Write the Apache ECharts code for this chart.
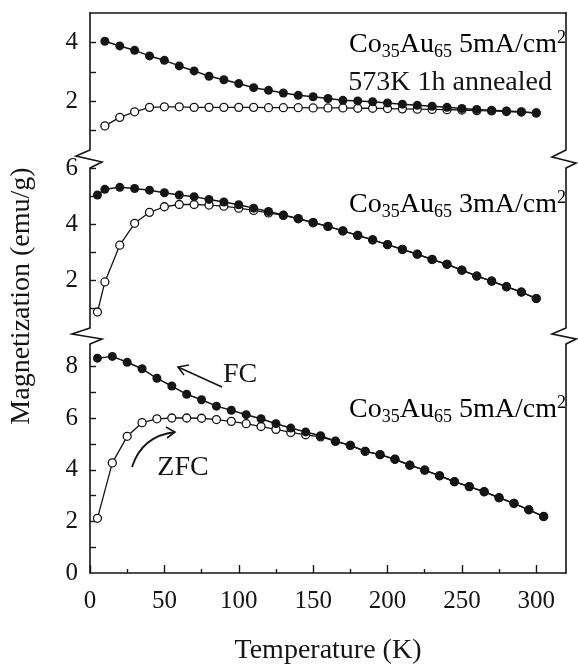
<!DOCTYPE html>
<html>
<head>
<meta charset="utf-8">
<script src="https://cdn.jsdelivr.net/npm/echarts@6/dist/echarts.min.js"></script>
<style>
    html, body { margin: 0; padding: 0; background: #fff; }
    #main { width: 578px; height: 666px; }
</style>
</head>
<body>
<div id="main"></div>
<script>
// top panel: Co35Au65 5mA/cm2, 573K 1h annealed
var tempTop = [10, 20, 30, 40, 50, 60, 70, 80, 90, 100, 110, 120, 130, 140, 150, 160, 170, 180, 190, 200, 210, 220, 230, 240, 250, 260, 270, 280, 290, 300];
var fcTop = [4.04, 3.88, 3.73, 3.54, 3.39, 3.20, 3.03, 2.85, 2.73, 2.60, 2.46, 2.37, 2.28, 2.20, 2.15, 2.09, 2.03, 2.01, 1.98, 1.94, 1.90, 1.86, 1.83, 1.79, 1.75, 1.72, 1.69, 1.67, 1.64, 1.60];
var zfcTop = [1.16, 1.45, 1.64, 1.79, 1.81, 1.81, 1.79, 1.79, 1.79, 1.79, 1.79, 1.78, 1.78, 1.78, 1.77, 1.77, 1.77, 1.76, 1.76, 1.75, 1.74, 1.73, 1.72, 1.71, 1.70, 1.68, 1.67, 1.65, 1.63, 1.60];

// middle panel: Co35Au65 3mA/cm2
var tempMid = [5, 10, 20, 30, 40, 50, 60, 70, 80, 90, 100, 110, 120, 130, 140, 150, 160, 170, 180, 190, 200, 210, 220, 230, 240, 250, 260, 270, 280, 290, 300];
var fcMid = [5.04, 5.24, 5.31, 5.27, 5.21, 5.12, 5.04, 4.98, 4.88, 4.79, 4.69, 4.57, 4.45, 4.33, 4.20, 4.06, 3.92, 3.76, 3.60, 3.44, 3.27, 3.10, 2.93, 2.74, 2.57, 2.36, 2.15, 1.97, 1.77, 1.58, 1.35];
var zfcMid = [0.87, 1.94, 3.25, 4.03, 4.42, 4.62, 4.70, 4.70, 4.68, 4.64, 4.57, 4.49, 4.40, 4.31, 4.19, 4.05, 3.92, 3.76, 3.60, 3.44, 3.27, 3.10, 2.93, 2.74, 2.57, 2.36, 2.15, 1.97, 1.77, 1.58, 1.35];

// bottom panel: Co35Au65 5mA/cm2
var tempBot = [5, 15, 25, 35, 45, 55, 65, 75, 85, 95, 105, 115, 125, 135, 145, 155, 165, 175, 185, 195, 205, 215, 225, 235, 245, 255, 265, 275, 285, 295, 305];
var fcBot = [8.33, 8.40, 8.17, 7.92, 7.55, 7.25, 6.93, 6.72, 6.47, 6.31, 6.14, 5.98, 5.79, 5.62, 5.47, 5.32, 5.11, 4.95, 4.72, 4.59, 4.41, 4.18, 3.99, 3.77, 3.54, 3.35, 3.15, 2.92, 2.70, 2.45, 2.19];
var zfcBot = [2.12, 4.27, 5.30, 5.83, 5.98, 6.01, 6.01, 6.00, 5.95, 5.88, 5.79, 5.68, 5.57, 5.45, 5.36, 5.28, 5.11, 4.95, 4.72, 4.59, 4.41, 4.18, 3.99, 3.77, 3.54, 3.35, 3.15, 2.92, 2.70, 2.45, 2.19];

var xTicks = [0, 50, 100, 150, 200, 250, 300];
var xMinorTicks = [25, 75, 125, 175, 225, 275];

var font = 'Liberation Serif';
var ink = '#151515';

function pairs(t, v) {
    var out = [];
    for (var i = 0; i < t.length; i++) {
        out.push([t[i], v[i]]);
    }
    return out;
}

function leftAxis(idx, min, max, labels, ticks) {
    return {
        type: 'value', gridIndex: idx, position: 'left', min: min, max: max,
        axisLine: { show: true, onZero: false, lineStyle: { color: ink, width: 1.6 } },
        axisTick: { show: true, inside: true, length: 6, customValues: ticks, lineStyle: { color: ink, width: 1.4 } },
        axisLabel: { show: true, customValues: labels, margin: 12, fontSize: 25, fontFamily: font, color: ink },
        splitLine: { show: false }
    };
}

function rightAxis(idx, min, max) {
    return {
        type: 'value', gridIndex: idx, position: 'right', min: min, max: max,
        axisLine: { show: true, onZero: false, lineStyle: { color: ink, width: 1.6 } },
        axisTick: { show: false }, axisLabel: { show: false }, splitLine: { show: false }
    };
}

function fcSeries(x, y, data) {
    return {
        type: 'line', xAxisIndex: x, yAxisIndex: y, data: data,
        symbol: 'circle', symbolSize: 9, z: 3,
        lineStyle: { color: ink, width: 1.5 },
        itemStyle: { color: ink, borderColor: ink, borderWidth: 0 }
    };
}

function zfcSeries(x, y, data) {
    return {
        type: 'line', xAxisIndex: x, yAxisIndex: y, data: data,
        symbol: 'circle', symbolSize: 8, showAllSymbol: true, z: 2,
        lineStyle: { color: ink, width: 1.3 },
        itemStyle: { color: '#fff', borderColor: ink, borderWidth: 1.3 }
    };
}

var rich = {
    m: { fontSize: 28, fontFamily: font, color: ink, lineHeight: 32 },
    s: { fontSize: 18, fontFamily: font, color: ink, lineHeight: 16, verticalAlign: 'bottom' },
    p: { fontSize: 18, fontFamily: font, color: ink, lineHeight: 14, verticalAlign: 'top' }
};

function label(x, y, text) {
    return {
        type: 'text', x: x, y: y, z: 10,
        style: { text: text, rich: rich, align: 'right', verticalAlign: 'middle' }
    };
}

function plain(x, y, text, align) {
    return {
        type: 'text', x: x, y: y, z: 10,
        style: { text: text, font: '28px "' + font + '"', fill: ink, align: align || 'center', verticalAlign: 'middle' }
    };
}

function zig(points) {
    return {
        type: 'polyline', z: 10,
        shape: { points: points },
        style: { stroke: ink, lineWidth: 1.6, fill: null }
    };
}

var chart = echarts.init(document.getElementById('main'));
chart.setOption({
    animation: false,
    backgroundColor: '#fff',
    grid: [
        { left: 90, right: 12, top: 13, height: 137 },
        { left: 90, right: 12, top: 168, height: 160 },
        { left: 90, right: 12, top: 344, height: 230 }
    ],
    xAxis: [
        {
            type: 'value', gridIndex: 0, position: 'top', min: 0, max: 320,
            axisLine: { show: true, onZero: false, lineStyle: { color: ink, width: 1.6 } },
            axisTick: { show: false }, axisLabel: { show: false }, splitLine: { show: false }
        },
        { type: 'value', gridIndex: 1, min: 0, max: 320, show: false },
        {
            type: 'value', gridIndex: 2, position: 'bottom', min: 0, max: 320,
            name: 'Temperature (K)', nameLocation: 'middle', nameGap: 64,
            nameTextStyle: { fontSize: 28, fontFamily: font, color: ink },
            axisLine: { show: true, onZero: false, lineStyle: { color: ink, width: 1.6 } },
            axisTick: { show: true, inside: true, length: 8, customValues: xTicks, lineStyle: { color: ink, width: 1.4 } },
            axisLabel: { show: true, customValues: xTicks, margin: 16, fontSize: 25, fontFamily: font, color: ink },
            splitLine: { show: false }
        },
        {
            type: 'value', gridIndex: 2, position: 'bottom', min: 0, max: 320,
            axisLine: { show: false },
            axisTick: { show: true, inside: true, length: 4, customValues: xMinorTicks, lineStyle: { color: ink, width: 1.4 } },
            axisLabel: { show: false }, splitLine: { show: false }
        }
    ],
    yAxis: [
        leftAxis(0, 0.34, 5, [2, 4], [1, 2, 3, 4]),
        leftAxis(1, 0.3, 6, [2, 4, 6], [1, 2, 3, 4, 5, 6]),
        leftAxis(2, 0, 8.88, [0, 2, 4, 6, 8], [1, 2, 3, 4, 5, 6, 7, 8]),
        rightAxis(0, 0.34, 5),
        rightAxis(1, 0.3, 6),
        rightAxis(2, 0, 8.88)
    ],
    series: [
        zfcSeries(0, 0, pairs(tempTop, zfcTop)),
        fcSeries(0, 0, pairs(tempTop, fcTop)),
        zfcSeries(1, 1, pairs(tempMid, zfcMid)),
        fcSeries(1, 1, pairs(tempMid, fcMid)),
        zfcSeries(2, 2, pairs(tempBot, zfcBot)),
        fcSeries(2, 2, pairs(tempBot, fcBot))
    ],
    graphic: [
        label(566, 45, '{m|Co}{s|35}{m|Au}{s|65}{m| 5mA/cm}{p|2}'),
        plain(552, 83, '573K 1h annealed', 'right'),
        label(566, 205, '{m|Co}{s|35}{m|Au}{s|65}{m| 3mA/cm}{p|2}'),
        label(566, 410, '{m|Co}{s|35}{m|Au}{s|65}{m| 5mA/cm}{p|2}'),
        plain(240, 375, 'FC'),
        plain(183, 468, 'ZFC'),
        {
            type: 'text', x: 22, y: 296, rotation: Math.PI / 2, z: 10,
            style: { text: 'Magnetization (emu/g)', font: '28px "' + font + '"', fill: ink, align: 'center', verticalAlign: 'middle' }
        },
        // axis breaks
        zig([[90, 150], [76, 156], [102, 162], [90, 168]]),
        zig([[566, 150], [552, 157], [576, 163], [566, 168]]),
        zig([[90, 328], [72, 334], [102, 339], [90, 344]]),
        zig([[566, 328], [552, 334], [576, 339], [566, 344]]),
        // FC arrow
        {
            type: 'line', z: 10,
            shape: { x1: 222, y1: 387, x2: 178, y2: 367 },
            style: { stroke: ink, lineWidth: 1.6 }
        },
        zig([[189, 365], [178, 367], [184, 375]]),
        // ZFC arrow
        {
            type: 'bezierCurve', z: 10,
            shape: { x1: 132, y1: 467, cpx1: 142, cpy1: 436, x2: 175, y2: 432 },
            style: { stroke: ink, lineWidth: 1.8, fill: null }
        },
        zig([[166, 427], [175, 432], [167, 438]])
    ]
});
</script>
</body>
</html>
